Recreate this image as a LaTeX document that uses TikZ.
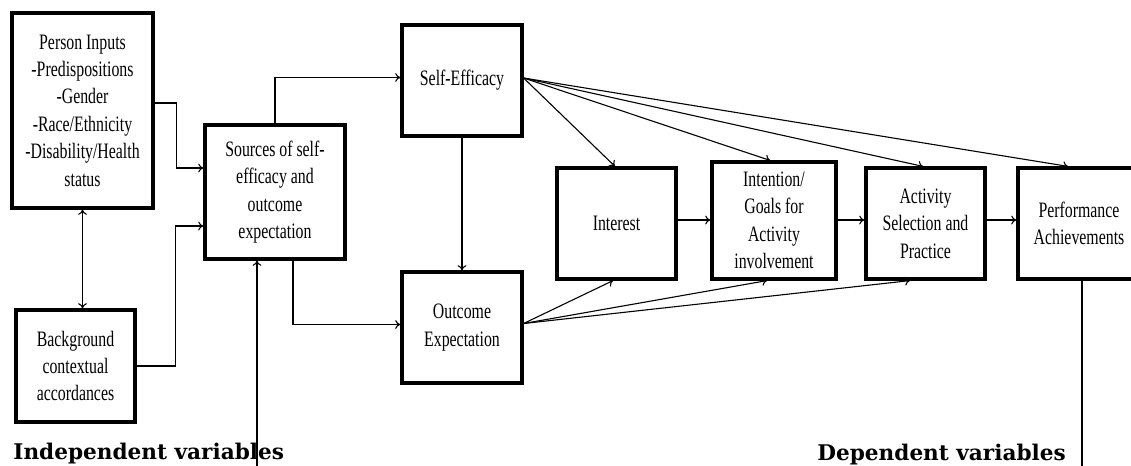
\documentclass[tikz,border=0pt]{standalone}
\usepackage{fontspec}
\usepackage{tikz}
\usetikzlibrary{arrows.meta,positioning,calc}
\newfontfamily\boxfont[FakeStretch=0.72]{Liberation Serif}
\newfontfamily\labelfont{DejaVu Serif}
\tikzset{
  stagebox/.style={draw, line width=1.6pt, align=center, inner sep=1pt,
    font=\boxfont\fontsize{11}{13.7}\selectfont},
  arr/.style={-{To[length=2.6pt,width=4.4pt]}, line width=0.55pt},
  twoarr/.style={{To[length=2.6pt,width=4.4pt]}-{To[length=2.6pt,width=4.4pt]}, line width=0.55pt},
  plain/.style={line width=0.55pt},
  varlabel/.style={font=\labelfont\bfseries\fontsize{10.8}{12}\selectfont, inner sep=0pt, anchor=base west}
}
\begin{document}
\begin{tikzpicture}[x=0.5pt, y=-0.5pt]
    \useasboundingbox (0,0) rectangle (1131,466);
    \clip (0,0) rectangle (1131,466);
    % left column
    \node[stagebox, minimum width=70.5pt, minimum height=97.5pt] (person) at (82.5,110.5)
      {Person Inputs\\-Predispositions\\-Gender\\-Race/Ethnicity\\-Disability/Health\\status};
    \node[stagebox, minimum width=59.5pt, minimum height=56pt] (background) at (75.5,366)
      {Background\\contextual\\accordances};
    \node[stagebox, minimum width=70pt, minimum height=67pt] (sources) at (275,192)
      {Sources of self-\\efficacy and\\outcome\\expectation};
    % expectations
    \node[stagebox, minimum width=60pt, minimum height=55.5pt] (selfeff) at (462,80.5) {Self-Efficacy};
    \node[stagebox, minimum width=60pt, minimum height=55.5pt] (outcome) at (462,327.5) {Outcome\\Expectation};
    % chain
    \node[stagebox, minimum width=59.5pt, minimum height=55.5pt] (interest) at (616.5,223.5) {Interest};
    \node[stagebox, minimum width=62pt, minimum height=58.5pt] (intention) at (774,220.5)
      {Intention/\\Goals for\\Activity\\involvement};
    \node[stagebox, minimum width=59.5pt, minimum height=55.5pt] (activity) at (925.5,223.5)
      {Activity\\Selection and\\Practice};
    \node[stagebox, minimum width=61pt, minimum height=55.5pt] (perform) at (1079,223.5)
      {Performance\\Achievements};
    % labels
    \node[varlabel] (indeplabel) at (13,459) {Independent variables};
    \node[varlabel] (deplabel) at (817,460) {Dependent variables};
    \coordinate (indep) at (257,466);
    \coordinate (dep) at (1082,466);
    % connectors
    \draw[arr] ($(person.east)+(0,-7.5)$) -- ++(22,0) |- ($(sources.west)+(0,-24)$);
    \draw[arr] (background.east) -- ++(39,0) |- ($(sources.west)+(0,34)$);
    \draw[twoarr] (person.south) -- (person.south |- background.north);
    \draw[arr] (sources.north) |- ($(selfeff.west)+(0,-3)$);
    \draw[arr] ($(sources.south)+(18,0)$) |- ($(outcome.west)+(0,-3)$);
    \draw[arr] (indep) -- (indep |- sources.south);
    \draw[arr] (selfeff.south) -- (outcome.north);
    \draw[arr] ($(selfeff.east)+(0,-2.5)$) -- ($(interest.north)+(-1.5,0)$);
    \draw[arr] ($(selfeff.east)+(0,-2.5)$) -- ($(intention.north)+(-4,0)$);
    \draw[arr] ($(selfeff.east)+(0,-2.5)$) -- ($(activity.north)+(-2.5,0)$);
    \draw[arr] ($(selfeff.east)+(0,-2.5)$) -- ($(perform.north)+(-11,0)$);
    \draw[arr] ($(outcome.east)+(0,-4)$) -- ($(interest.south)+(-3.5,0)$);
    \draw[arr] ($(outcome.east)+(0,-4)$) -- ($(intention.south)+(-7,0)$);
    \draw[arr] ($(outcome.east)+(0,-4)$) -- ($(activity.south)+(-15.5,0)$);
    \draw[arr] (interest.east |- 0,220) -- (intention.west |- 0,220);
    \draw[arr] (intention.east |- 0,220) -- (activity.west |- 0,220);
    \draw[arr] (activity.east |- 0,220) -- (perform.west |- 0,220);
    \draw[plain] (dep) -- (dep |- perform.south);
\end{tikzpicture}
\end{document}
